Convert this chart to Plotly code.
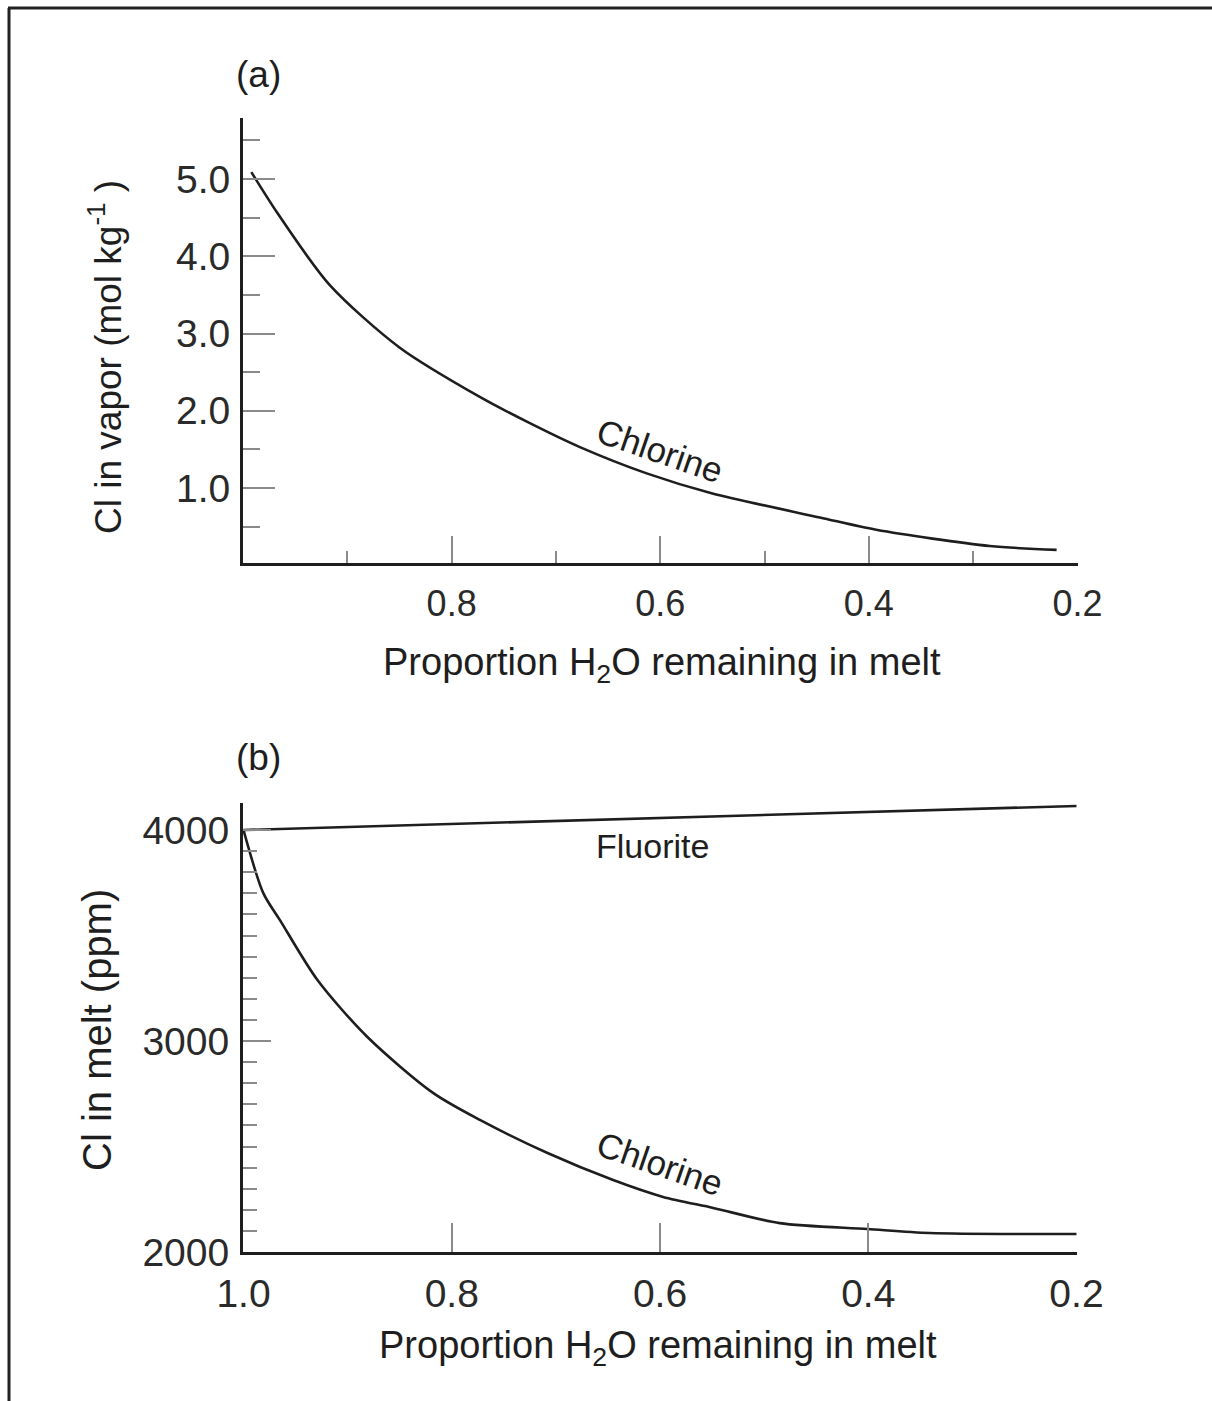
import plotly.graph_objects as go

W, H = 1212, 1401

# ---------------- data ----------------
# Panel (a): Cl in vapor (mol/kg) vs proportion H2O remaining in melt
a_x = [0.992, 0.967, 0.917, 0.850, 0.773, 0.725, 0.677, 0.613, 0.550, 0.447, 0.393, 0.284, 0.220]
a_y = [5.09, 4.56, 3.63, 2.82, 2.18, 1.84, 1.53, 1.19, 0.93, 0.62, 0.46, 0.25, 0.20]

# Panel (b): Cl in melt (ppm)
b_cl_x = [1.0, 0.981, 0.965, 0.929, 0.881, 0.818, 0.773, 0.708, 0.645, 0.597, 0.549, 0.485, 0.401, 0.341, 0.2]
b_cl_y = [4000, 3701, 3573, 3289, 3019, 2754, 2626, 2469, 2341, 2261, 2209, 2137, 2109, 2090, 2085]
b_fl_x = [1.0, 0.2]
b_fl_y = [4000, 4114]

a_xticks = [0.8, 0.6, 0.4, 0.2]
a_xticktext = ["0.8", "0.6", "0.4", "0.2"]
a_xminor = [0.9, 0.7, 0.5, 0.3]
a_yticks = [1, 2, 3, 4, 5]
a_yticktext = ["1.0", "2.0", "3.0", "4.0", "5.0"]
a_yminor = [0.5, 1.5, 2.5, 3.5, 4.5, 5.5]

b_xticks = [1.0, 0.8, 0.6, 0.4, 0.2]
b_xticktext = ["1.0", "0.8", "0.6", "0.4", "0.2"]
b_yticks = [2000, 3000, 4000]
b_yticktext = ["2000", "3000", "4000"]
b_yminor = [v for v in range(2100, 4000, 100) if v != 3000]

FONT = "Liberation Sans"
INK = "#1e1e1e"
TICKC = "#8a8a8a"
LABC = "#2a2a2a"

def px_x(p):
    return p / W

def px_y(p):
    return 1 - p / H

fig = go.Figure()

line_style = dict(color=INK, width=2.6, shape="spline", smoothing=0.8)
fig.add_trace(go.Scatter(x=a_x, y=a_y, mode="lines", line=line_style, xaxis="x", yaxis="y",
                         showlegend=False, hoverinfo="skip"))
fig.add_trace(go.Scatter(x=b_fl_x, y=b_fl_y, mode="lines", line=dict(color=INK, width=2.6),
                         xaxis="x2", yaxis="y2", showlegend=False, hoverinfo="skip"))
fig.add_trace(go.Scatter(x=b_cl_x, y=b_cl_y, mode="lines", line=line_style, xaxis="x2", yaxis="y2",
                         showlegend=False, hoverinfo="skip"))

common_axis = dict(showline=True, linecolor=INK, linewidth=3, showgrid=False, zeroline=False,
                   mirror=False, ticks="inside", tickcolor=TICKC, tickwidth=1.5,
                   tickmode="array", automargin=False)

fig.update_layout(
    width=W, height=H,
    margin=dict(l=0, r=0, t=0, b=0, pad=0),
    paper_bgcolor="white", plot_bgcolor="white",
    font=dict(family=FONT, color=INK),
    xaxis=dict(common_axis, domain=[px_x(243), px_x(1078)], range=[1.0, 0.1995],
               anchor="y", tickvals=a_xticks, ticktext=a_xticktext, ticklen=27,
               tickfont=dict(size=36, family=FONT, color=LABC), ticklabelstandoff=7,
               minor=dict(tickmode="array", tickvals=a_xminor, ticklen=12, tickcolor=TICKC,
                          tickwidth=1.5, ticks="inside", showgrid=False)),
    yaxis=dict(common_axis, domain=[px_y(563), px_y(118)], range=[0.03, 5.79],
               anchor="x", tickvals=a_yticks, ticktext=a_yticktext, ticklen=32,
               tickfont=dict(size=39, family=FONT, color=LABC), ticklabelstandoff=2,
               minor=dict(tickmode="array", tickvals=a_yminor, ticklen=17, tickcolor=TICKC,
                          tickwidth=1.5, ticks="inside", showgrid=False)),
    xaxis2=dict(common_axis, domain=[px_x(243), px_x(1077)], range=[1.0005, 0.1995],
                anchor="y2", tickvals=b_xticks, ticktext=b_xticktext, ticklen=29,
                tickfont=dict(size=39, family=FONT, color=LABC), ticklabelstandoff=5),
    yaxis2=dict(common_axis, domain=[px_y(1252), px_y(803)], range=[2000, 4128],
                anchor="x2", tickvals=b_yticks, ticktext=b_yticktext, ticklen=28,
                tickfont=dict(size=39, family=FONT, color=LABC), ticklabelstandoff=3,
                minor=dict(tickmode="array", tickvals=b_yminor, ticklen=14, tickcolor=TICKC,
                           tickwidth=1.5, ticks="inside", showgrid=False)),
)

def ann(text, x, y, size, angle=0):
    fig.add_annotation(text=text, x=px_x(x), y=px_y(y), xref="paper", yref="paper",
                       showarrow=False, textangle=angle, xanchor="center", yanchor="middle",
                       font=dict(size=size, family=FONT, color=INK))

ann("(a)", 258, 75, 37)
ann("(b)", 258, 757, 37)
ann("Cl in vapor (mol kg<sup>-1</sup> )", 106, 357, 37, -90)
ann("Cl in melt (ppm)", 97, 1030, 40, -90)
ann("Proportion H<sub>2</sub>O remaining in melt", 662, 665, 38)
ann("Proportion H<sub>2</sub>O remaining in melt", 658, 1348, 38)
ann("Chlorine", 660, 450, 35, 19)
ann("Chlorine", 660, 1163, 35, 19)
ann("Fluorite", 652, 846, 34)

# frame (top and left edges)
fig.add_shape(type="line", xref="paper", yref="paper", x0=px_x(9), y0=px_y(1401), x1=px_x(9), y1=px_y(8),
              line=dict(color="#222", width=3))
fig.add_shape(type="line", xref="paper", yref="paper", x0=px_x(8), y0=px_y(8), x1=1.0, y1=px_y(8),
              line=dict(color="#222", width=3))

fig.write_html("out.html")
